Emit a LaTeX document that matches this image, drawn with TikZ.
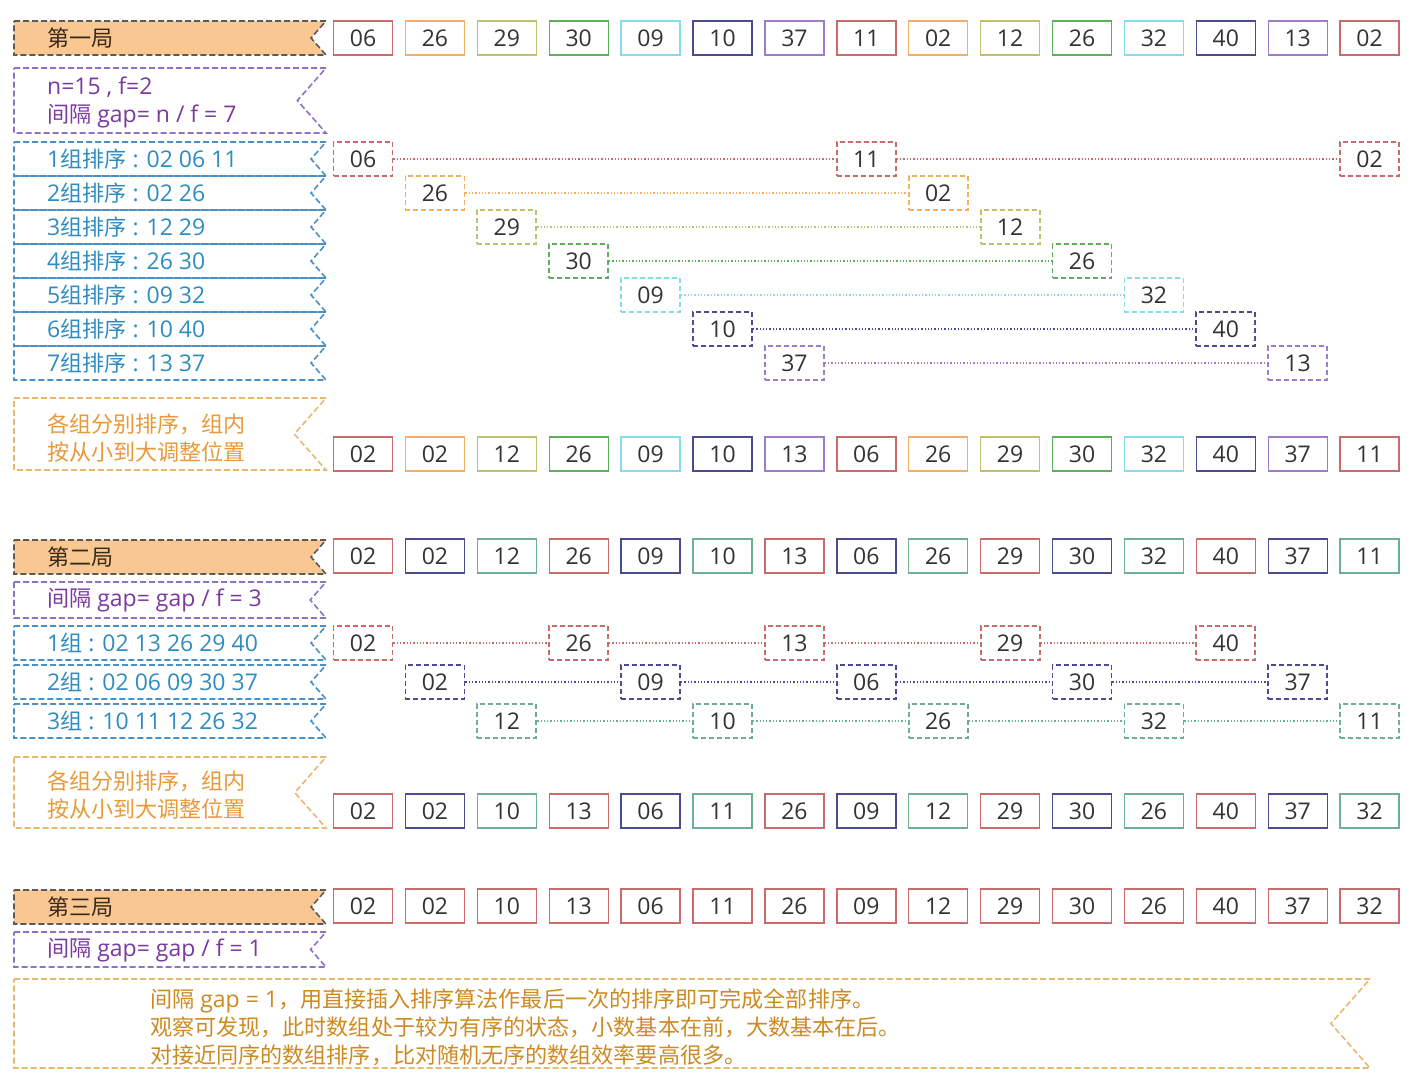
\documentclass[tikz,border=0pt]{standalone}
\usepackage{fontspec}
\setmainfont{Open Sans}
\newfontfamily\cjk[Scale=0.96]{Noto Sans CJK SC}
\usetikzlibrary{positioning}

\definecolor{pRed}{HTML}{C96B6B}
\definecolor{pOrange}{HTML}{F2B066}
\definecolor{pOlive}{HTML}{BCC270}
\definecolor{pGreen}{HTML}{5DAE5D}
\definecolor{pCyan}{HTML}{86DCEB}
\definecolor{pNavy}{HTML}{4B4B8F}
\definecolor{pPurple}{HTML}{9B7DC9}
\definecolor{pTeal}{HTML}{6FAF94}
\colorlet{pal0}{pRed}
\colorlet{pal1}{pOrange}
\colorlet{pal2}{pOlive}
\colorlet{pal3}{pGreen}
\colorlet{pal4}{pCyan}
\colorlet{pal5}{pNavy}
\colorlet{pal6}{pPurple}
\colorlet{tri0}{pRed}
\colorlet{tri1}{pNavy}
\colorlet{tri2}{pTeal}
\definecolor{numtext}{HTML}{333333}
\definecolor{hdrfill}{HTML}{F9C792}
\definecolor{hdrline}{HTML}{5A5A5A}
\definecolor{hdrtext}{HTML}{3A2A1A}
\definecolor{purline}{HTML}{8E72C4}
\definecolor{purtext}{HTML}{7A3A9E}
\definecolor{bluline}{HTML}{4A90C8}
\definecolor{blutext}{HTML}{2F8CC0}
\definecolor{orgline}{HTML}{E8B870}
\definecolor{orgtext}{HTML}{E89A3A}
\definecolor{tantext}{HTML}{CC8A22}

\begin{document}
\begin{tikzpicture}[x=1pt,y=-1pt,
  num/.style={draw, line width=1.4pt, minimum width=59pt, minimum height=34pt, inner sep=0pt,
    font=\fontsize{23}{24}\selectfont, text=numtext},
  grp/.style={num, dashed, line width=1.8pt, dash pattern=on 5pt off 3pt},
  link/.style={dotted, line width=1.3pt},
  band/.style={line width=1.6pt, dash pattern=on 6pt off 3pt},
  hdr/.style={draw=hdrline, fill=hdrfill},
  pur/.style={draw=purline},
  blu/.style={draw=bluline},
  org/.style={draw=orgline},
  lbl/.style={anchor=west, inner sep=0pt, font=\fontsize{23}{28}\selectfont, align=left}
]
  \fill[white] (0,0) rectangle (1420,1080);
  \useasboundingbox (0,0) rectangle (1420,1080);

  % ribbons on the left
  \foreach \ya/\yb/\xr/\bs in {21/55/326/hdr, 68/133/326/pur,
      142/176/326/blu, 176/210/326/blu, 210/244/326/blu, 244/278/326/blu,
      278/312/326/blu, 312/346/326/blu, 346/380/326/blu, 398/470/326/org,
      540/574/326/hdr, 582/618/326/pur, 626/660/326/blu, 665/699/326/blu,
      704/738/326/blu, 757/828/326/org,
      890/924/326/hdr, 932/967/326/pur, 979/1068/1370/org} {
    \pgfmathsetmacro{\ym}{(\ya+\yb)/2}
    \pgfmathsetmacro{\xt}{\xr-0.44*(\yb-\ya)}
    \draw[band,\bs] (14,\ya) -- (\xr,\ya) -- (\xt,\ym) -- (\xr,\yb) -- (14,\yb) -- cycle;
  }

  % round 1
  \node[lbl, text=hdrtext] (r1) at (47,38) {\cjk 第一局};
  \node[lbl, text=purtext] (r1gap) at (47,102) {n=15 , f=2\\{\cjk 间隔} gap= n / f = 7};
  \foreach \t [count=\k] in {02 06 11, 02 26, 12 29, 26 30, 09 32, 10 40, 13 37}
    \node[lbl, text=blutext] (r1g\k) at (47,{125+34*\k}) {\k{\cjk 组排序} : \t};
  \node[lbl, text=orgtext] (r1sort) at (47,438) {{\cjk 各组分别排序，组内}\\{\cjk 按从小到大调整位置}};

  \foreach \v [count=\i from 0] in {06,26,29,30,09,10,37,11,02,12,26,32,40,13,02} {
    \pgfmathtruncatemacro{\c}{mod(\i,7)}
    \node[num, draw=pal\c] (a\i) at ({363+71.9*\i},38) {\v};
    \node[grp, draw=pal\c] (ga\i) at ({363+71.9*\i},{159+34*\c}) {\v};
  }
  \foreach \p/\q in {0/7,7/14,1/8,2/9,3/10,4/11,5/12,6/13} {
    \pgfmathtruncatemacro{\c}{mod(\p,7)}
    \draw[link, pal\c] (ga\p) -- (ga\q);
  }
  \foreach \v [count=\i from 0] in {02,02,12,26,09,10,13,06,26,29,30,32,40,37,11} {
    \pgfmathtruncatemacro{\c}{mod(\i,7)}
    \node[num, draw=pal\c] (b\i) at ({363+71.9*\i},454) {\v};
  }

  % round 2
  \node[lbl, text=hdrtext] (r2) at (47,557) {\cjk 第二局};
  \node[lbl, text=purtext] (r2gap) at (47,600) {{\cjk 间隔} gap= gap / f = 3};
  \foreach \t [count=\k] in {02 13 26 29 40, 02 06 09 30 37, 10 11 12 26 32}
    \node[lbl, text=blutext] (r2g\k) at (47,{604+39*\k}) {\k{\cjk 组} : \t};
  \node[lbl, text=orgtext] (r2sort) at (47,795) {{\cjk 各组分别排序，组内}\\{\cjk 按从小到大调整位置}};

  \foreach \v [count=\i from 0] in {02,02,12,26,09,10,13,06,26,29,30,32,40,37,11} {
    \pgfmathtruncatemacro{\c}{mod(\i,3)}
    \node[num, draw=tri\c] (c\i) at ({363+71.9*\i},556) {\v};
    \node[grp, draw=tri\c] (gc\i) at ({363+71.9*\i},{643+39*\c}) {\v};
  }
  \foreach \p/\q in {0/3,3/6,6/9,9/12,1/4,4/7,7/10,10/13,2/5,5/8,8/11,11/14} {
    \pgfmathtruncatemacro{\c}{mod(\p,3)}
    \draw[link, tri\c] (gc\p) -- (gc\q);
  }
  \foreach \v [count=\i from 0] in {02,02,10,13,06,11,26,09,12,29,30,26,40,37,32} {
    \pgfmathtruncatemacro{\c}{mod(\i,3)}
    \node[num, draw=tri\c] (d\i) at ({363+71.9*\i},811) {\v};
  }

  % round 3
  \node[lbl, text=hdrtext] (r3) at (47,907) {\cjk 第三局};
  \node[lbl, text=purtext] (r3gap) at (47,950) {{\cjk 间隔} gap= gap / f = 1};
  \foreach \v [count=\i from 0] in {02,02,10,13,06,11,26,09,12,29,30,26,40,37,32}
    \node[num, draw=pRed] (e\i) at ({363+71.9*\i},906) {\v};
  \node[lbl, text=tantext] (note) at (150,1027)
    {{\cjk 间隔} gap = 1{\cjk ，用直接插入排序算法作最后一次的排序即可完成全部排序。}\\
     {\cjk 观察可发现，此时数组处于较为有序的状态，小数基本在前，大数基本在后。}\\
     {\cjk 对接近同序的数组排序，比对随机无序的数组效率要高很多。}};
\end{tikzpicture}
\end{document}
